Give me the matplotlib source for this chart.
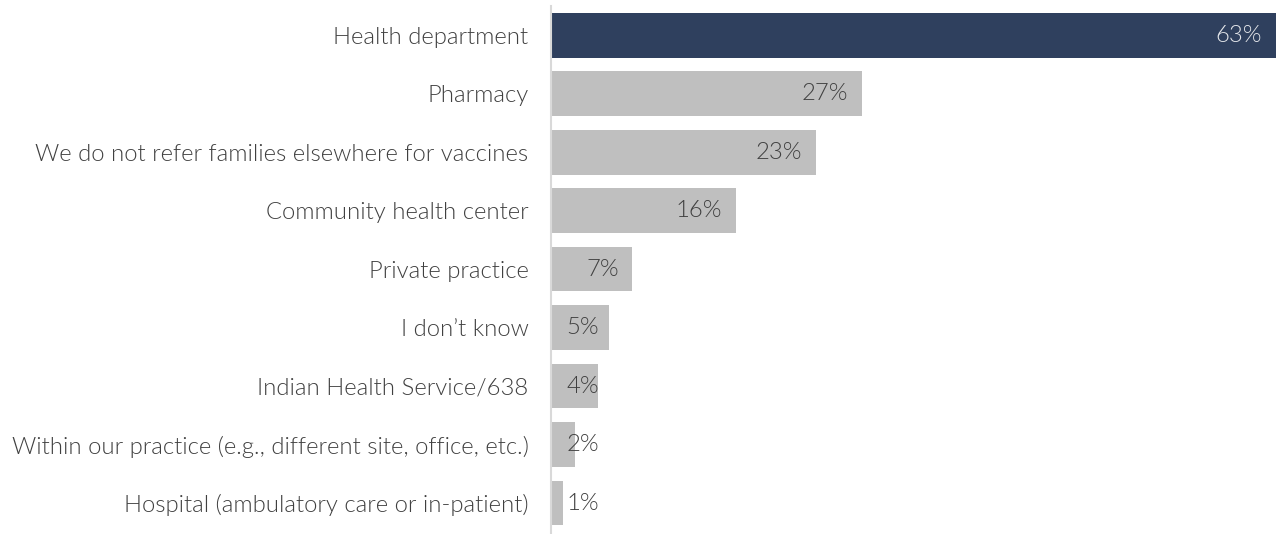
import matplotlib
matplotlib.use("Agg")
import matplotlib.pyplot as plt

categories = [
    "Health department",
    "Pharmacy",
    "We do not refer families elsewhere for vaccines",
    "Community health center",
    "Private practice",
    "I don\u2019t know",
    "Indian Health Service/638",
    "Within our practice (e.g., different site, office, etc.)",
    "Hospital (ambulatory care or in-patient)",
]
values = [63, 27, 23, 16, 7, 5, 4, 2, 1]

NAVY = "#2F405E"
GREY = "#BFBFBF"
TEXT = "#404040"
FS = 17.2

plt.rcParams["font.family"] = ["Lato", "DejaVu Sans"]
plt.rcParams["font.weight"] = 300

fig = plt.figure(figsize=(12.77, 5.34), dpi=100)
ax = fig.add_axes([552 / 1277, 0.0, 1 - 552 / 1277, 1 - 6 / 534])

ypos = list(range(len(categories)))
colors = [NAVY] + [GREY] * (len(values) - 1)
ax.barh(ypos, values, height=0.765, color=colors, left=0)

ax.set_xlim(0, 63.1)
ax.set_ylim(len(categories) - 0.5 + 0.03, -0.5)

for y, v, c in zip(ypos, values, colors):
    x = max(v - 1.2, 4.1)
    col = "#E4E6EA" if c == NAVY else TEXT
    ax.text(x, y, f"{v}%", ha="right", va="center", fontsize=FS,
            fontweight=300, color=col)

ax.tick_params(axis="y", length=0, pad=16.5, labelsize=FS, labelcolor=TEXT)
ax.set_yticks(ypos)
ax.set_yticklabels(categories, fontsize=FS, fontweight=300, color=TEXT)
ax.set_xticks([])
for s in ["top", "right", "bottom"]:
    ax.spines[s].set_visible(False)
ax.spines["left"].set_color("#D9D9D9")
ax.spines["left"].set_linewidth(1.5)
ax.spines["left"].set_position(("data", -0.05))

fig.savefig("out.png", dpi=100)
